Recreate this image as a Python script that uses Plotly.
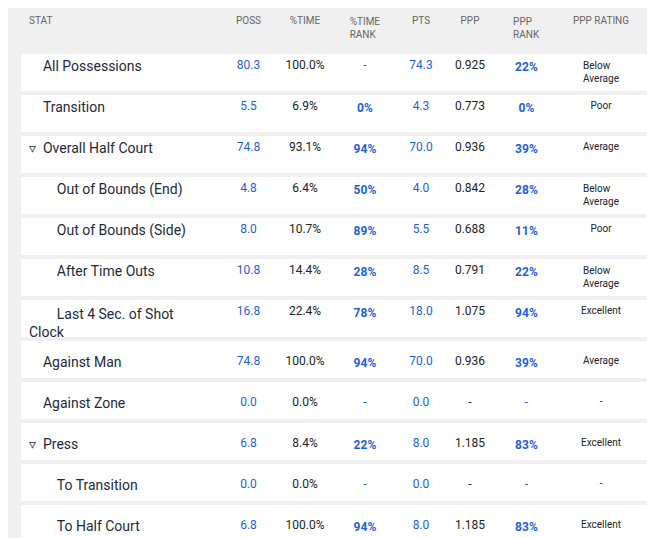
import plotly.graph_objects as go

# table data
stat = ["All Possessions", "Transition", "Overall Half Court", "Out of Bounds (End)",
        "Out of Bounds (Side)", "After Time Outs", "Last 4 Sec. of Shot Clock",
        "Against Man", "Against Zone", "Press", "To Transition", "To Half Court"]
level = [0, 0, 0, 1, 1, 1, 1, 0, 0, 0, 1, 1]
expand = [False, False, True, False, False, False, False, False, False, True, False, False]
poss = ["80.3", "5.5", "74.8", "4.8", "8.0", "10.8", "16.8", "74.8", "0.0", "6.8", "0.0", "6.8"]
pct_time = ["100.0%", "6.9%", "93.1%", "6.4%", "10.7%", "14.4%", "22.4%", "100.0%", "0.0%", "8.4%", "0.0%", "100.0%"]
time_rank = ["-", "0%", "94%", "50%", "89%", "28%", "78%", "94%", "-", "22%", "-", "94%"]
pts = ["74.3", "4.3", "70.0", "4.0", "5.5", "8.5", "18.0", "70.0", "0.0", "8.0", "0.0", "8.0"]
ppp = ["0.925", "0.773", "0.936", "0.842", "0.688", "0.791", "1.075", "0.936", "-", "1.185", "-", "1.185"]
ppp_rank = ["22%", "0%", "39%", "28%", "11%", "22%", "94%", "39%", "-", "83%", "-", "83%"]
rating = ["Below Average", "Poor", "Average", "Below Average", "Poor", "Below Average",
          "Excellent", "Average", "-", "Excellent", "-", "Excellent"]
headers = ["STAT", "POSS", "%TIME", "%TIME<br>RANK", "PTS", "PPP", "PPP<br>RANK", "PPP RATING", ""]

NB = "\u00a0"
names = []
for s, lv, ex in zip(stat, level, expand):
    prefix = ("▿" + NB * 2 if ex else NB * 4) + NB * (4 * lv)
    names.append(prefix + s)

def bold(vals):
    return ["<b>%s</b>" % v if v != "-" else v for v in vals]

BLUE = "#1f5fd6"
DARK = "#1d2939"
BLACK = "#222222"
GREY = "#f0f0f0"

fig = go.Figure(go.Table(
    domain=dict(x=[13 / 655, 1], y=[0, 1]),
    columnwidth=[200, 55, 58, 62, 50, 48, 65, 84, 20],
    header=dict(values=headers, fill_color=GREY, line=dict(color=GREY, width=0),
                align=["left"] + ["center"] * 8, height=44,
                font=dict(family="Roboto", size=10, color="#666666")),
    cells=dict(values=[names, poss, pct_time, bold(time_rank), pts, ppp, bold(ppp_rank), rating, [""] * 12],
               fill_color="white", line=dict(color="white", width=0),
               align=["left"] + ["center"] * 8, height=41,
               font=dict(family="Roboto",
                         size=[14, 12, 12, 12, 12, 12, 12, 10, 12],
                         color=[DARK, BLUE, BLACK, BLUE, BLUE, BLACK, BLUE, BLACK, BLACK])),
))

# grey gaps between row cards
shapes = [dict(type="rect", xref="paper", yref="paper", x0=0, x1=1,
               y0=1 - 46 / 538, y1=1 - 43 / 538, fillcolor=GREY, line_width=0, layer="above")]
for k in range(1, 13):
    b = 44 + 41 * k
    shapes.append(dict(type="rect", xref="paper", yref="paper", x0=0, x1=1,
                       y0=1 - (b + 2) / 538, y1=1 - (b - 2) / 538,
                       fillcolor=GREY, line_width=0, layer="above"))

fig.update_layout(width=655, height=538, margin=dict(l=0, r=0, t=0, b=0),
                  paper_bgcolor=GREY, shapes=shapes)
fig.write_html("out.html")
